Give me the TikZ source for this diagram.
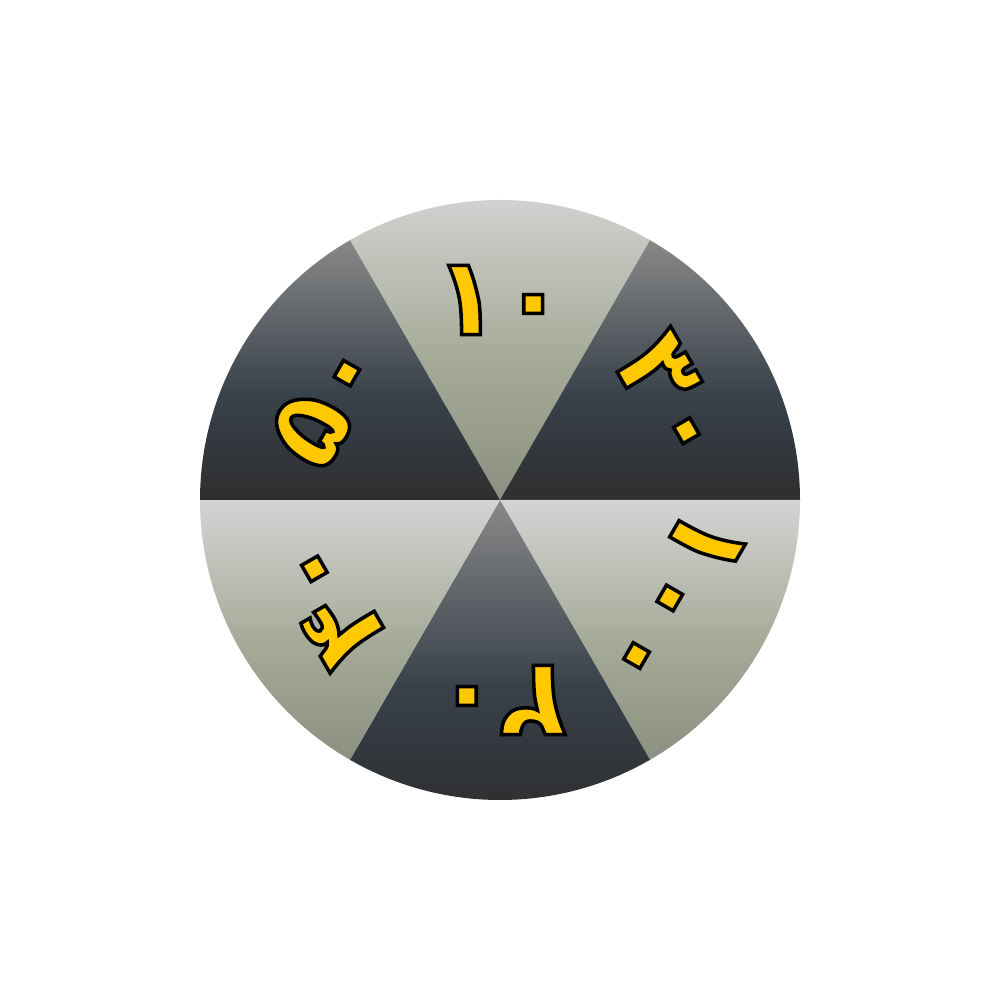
\documentclass[tikz,border=0pt]{standalone}
\usepackage{fontspec}
\usepackage{xcolor}
\TeXXeTstate=1
\newfontfamily\arabicfont[Script=Arabic]{DejaVu Sans}
\definecolor{numyellow}{HTML}{FFC800}
\definecolor{lighttop}{HTML}{D4D4D4}
\definecolor{lightmid}{HTML}{A6AB98}
\definecolor{lightbot}{HTML}{8C9081}
\definecolor{darktop}{HTML}{888888}
\definecolor{darkmid}{HTML}{38414A}
\definecolor{darkbot}{HTML}{2E2E2F}
\pgfdeclareverticalshading{lightshade}{100bp}{color(0bp)=(lightbot); color(25bp)=(lightbot);
  color(48bp)=(lightmid); color(75bp)=(lighttop); color(100bp)=(lighttop)}
\pgfdeclareverticalshading{darkshade}{100bp}{color(0bp)=(darkbot); color(25bp)=(darkbot);
  color(45bp)=(darkmid); color(75bp)=(darktop); color(100bp)=(darktop)}
% text filled yellow and stroked black
\newcommand\outlinedtext[1]{\special{pdf:literal direct 0 0 0 RG 1 w 2 Tr}#1\special{pdf:literal direct 0 Tr}}
\tikzset{
  lightsec/.style={shading=lightshade},
  darksec/.style={shading=darkshade},
  numlabel/.style={font=\arabicfont\bfseries\fontsize{31}{35}\selectfont, text=numyellow}
}
\begin{document}
\begin{tikzpicture}
\useasboundingbox (-5,-5) rectangle (5,5);

% Draw the six sectors
\foreach \a/\kind in {60/lightsec, 0/darksec, -60/lightsec, -120/darksec, -180/lightsec, 120/darksec}
  \shade[\kind] (0,0) -- (\a:3) arc (\a:\a+60:3) -- cycle;

% Draw the numbers
\foreach \a/\num/\nm in {90/۱۰/ten, 30/۳۰/thirty, -30/۱۰۰/hundred, -90/۲۰/twenty, -150/۴۰/forty, 150/۵۰/fifty}
  \node[numlabel, rotate=\a-90] (\nm) at (\a:2) {\outlinedtext{\beginR\beginL\num\endL\endR}};

\end{tikzpicture}
\end{document}
